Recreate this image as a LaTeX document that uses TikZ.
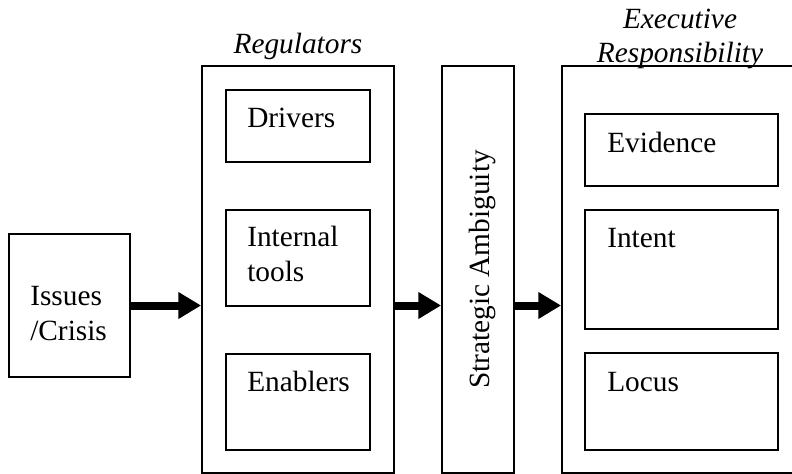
\documentclass[tikz,border=0pt]{standalone}
\usepackage{fontspec}
\setmainfont{Liberation Serif}
\usepackage{tikz}
\usetikzlibrary{fit,arrows.meta}

\begin{document}
\begin{tikzpicture}[x=0.75pt,y=-0.75pt,
   box/.style={draw,line width=1.4pt,inner sep=0pt},
   txt/.style={anchor=base west,align=left,inner sep=0pt,font=\fontsize{22}{26}\selectfont},
   head/.style={anchor=base,align=center,inner sep=0pt,font=\fontsize{22}{26}\selectfont\itshape},
   flow/.style={line width=6pt,-{Triangle[length=17pt,width=19pt]}}]
   \useasboundingbox (0,0) rectangle (792,474);
   \clip (0,0) rectangle (792,474);

   % input
   \node[box,fit={(9,234) (130,377)}] (iss) {};
   \node[txt] (isstxt) at (30,340) {Issues\\/Crisis};

   % regulators
   \node[box,fit={(202,66) (394,473)}] (reg) {};
   \node[head] (regtxt) at (298,54) {Regulators};
   \node[box,fit={(226,90) (370,162)}] (drv) {};
   \node[txt] (drvtxt) at (247,128) {Drivers};
   \node[box,fit={(226,210) (370,306)}] (tools) {};
   \node[txt] (toolstxt) at (247,281) {Internal\\tools};
   \node[box,fit={(226,354) (370,450)}] (enb) {};
   \node[txt] (enbtxt) at (247,391) {Enablers};

   % strategic ambiguity
   \node[box,fit={(442,66) (514,473)}] (amb) {};
   \node[txt,anchor=center,rotate=90] (ambtxt) at ([xshift=3pt]amb.center) {Strategic Ambiguity};

   % executive responsibility (runs off the right edge)
   \node[box,fit={(562,66) (810,473)}] (exe) {};
   \node[head] (exetxt) at (680,63) {Executive\\Responsibility};
   \node[box,fit={(585,114) (778,186)}] (evd) {};
   \node[txt] (evdtxt) at (607,152) {Evidence};
   \node[box,fit={(585,210) (778,329)}] (int) {};
   \node[txt] (inttxt) at (607,247) {Intent};
   \node[box,fit={(585,353) (778,450)}] (loc) {};
   \node[txt] (loctxt) at (607,391) {Locus};

   % arrows
   \draw[flow] (iss.east) -- (iss.east -| reg.west);
   \draw[flow] (reg.east |- iss.east) -- (amb.west |- iss.east);
   \draw[flow] (amb.east |- iss.east) -- (exe.west |- iss.east);
\end{tikzpicture}
\end{document}
